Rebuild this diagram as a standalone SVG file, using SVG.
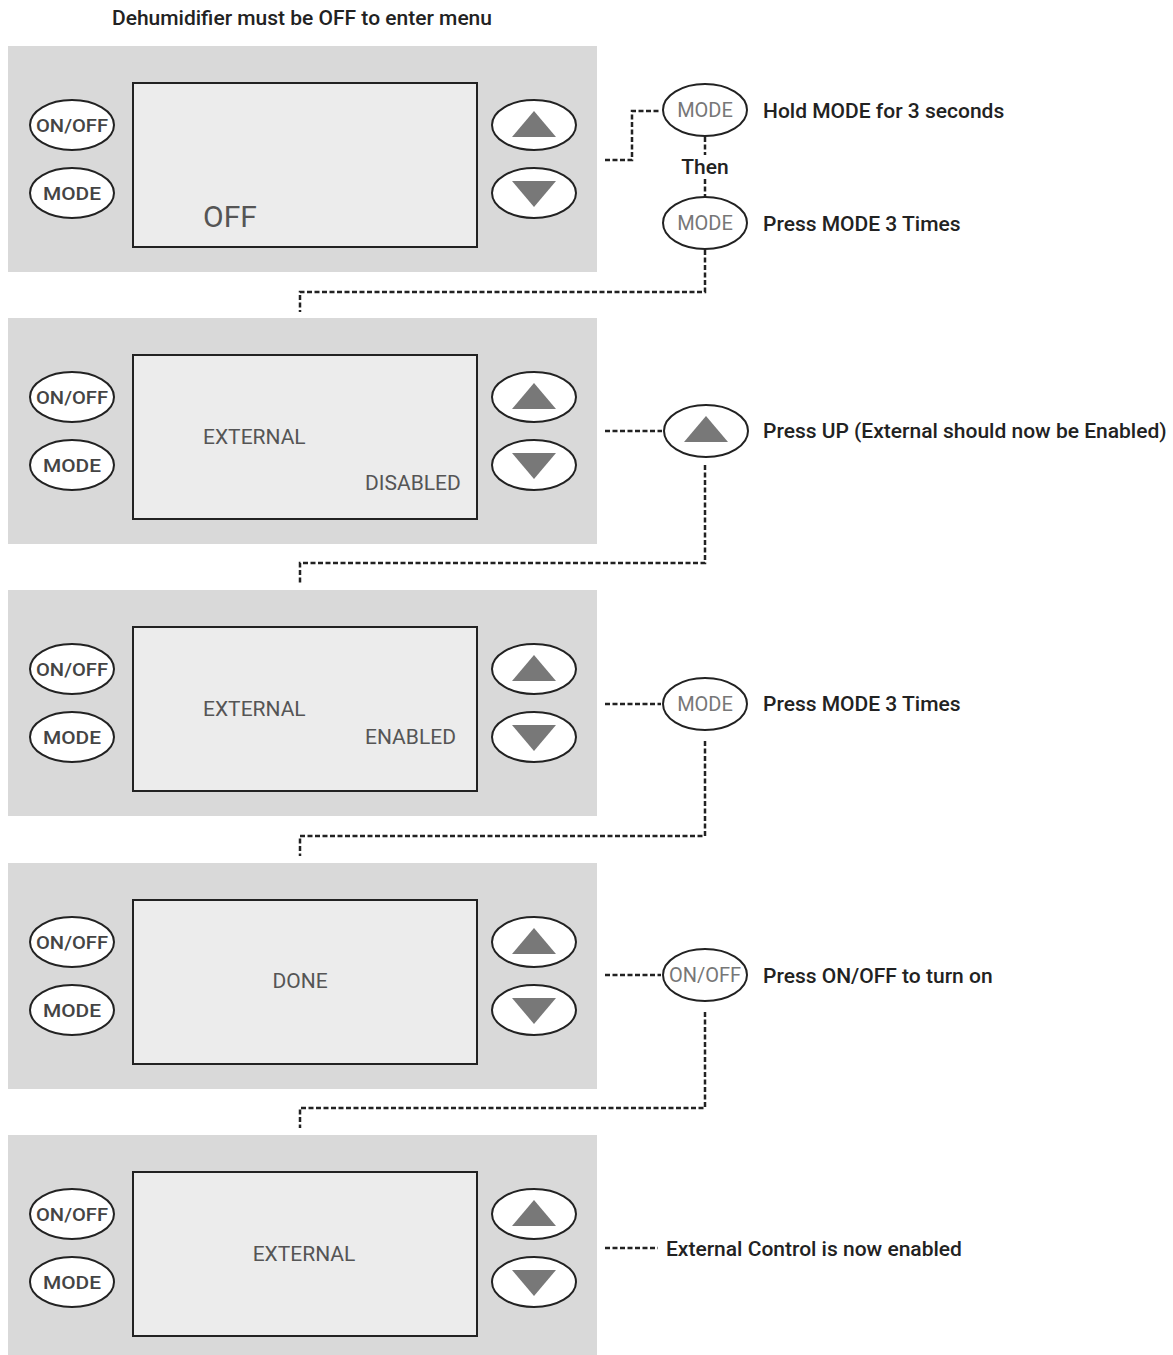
<svg xmlns="http://www.w3.org/2000/svg" width="1173" height="1355" viewBox="0 0 1173 1355">
<defs>
<style>
.panel{fill:#d9d9d9}
.screen{fill:#ececec;stroke:#222;stroke-width:2}
.btn{fill:#fff;stroke:#222;stroke-width:2}
.tri{fill:#787878}
.bt{font-family:Roboto,"Liberation Sans",sans-serif;font-size:19px;font-weight:500;fill:#444;text-anchor:middle}
.bt2{font-family:Roboto,"Liberation Sans",sans-serif;font-size:20px;fill:#777;text-anchor:middle}
.st{font-family:Roboto,"Liberation Sans",sans-serif;font-size:21px;fill:#555}
.lab{font-family:Roboto,"Liberation Sans",sans-serif;font-size:21px;font-weight:500;fill:#222}
.dash{fill:none;stroke:#222;stroke-width:2.5;stroke-dasharray:5 2.5}
</style>
<g id="keypad">
<rect class="panel" x="8" y="46" width="589" height="226"/>
<rect class="screen" x="133" y="83" width="344" height="164"/>
<ellipse class="btn" cx="72" cy="125" rx="42" ry="25"/>
<text class="bt" x="72" y="132" textLength="72" lengthAdjust="spacingAndGlyphs">ON/OFF</text>
<ellipse class="btn" cx="72" cy="193" rx="42" ry="25"/>
<text class="bt" x="72" y="200" textLength="58" lengthAdjust="spacingAndGlyphs">MODE</text>
<ellipse class="btn" cx="534" cy="125" rx="42" ry="25"/>
<polygon class="tri" points="534,111 556,137 512,137"/>
<ellipse class="btn" cx="534" cy="193" rx="42" ry="25"/>
<polygon class="tri" points="512,181 556,181 534,207"/>
</g>
</defs>
<text class="lab" x="112" y="25" textLength="380">Dehumidifier must be OFF to enter menu</text>
<g id="panel1">
<use href="#keypad"/>
<text class="st" x="203" y="227" style="font-size:30px">OFF</text>
</g>
<g id="panel2" transform="translate(0,272)">
<use href="#keypad"/>
<text class="st" x="203" y="172">EXTERNAL</text>
<text class="st" x="365" y="218">DISABLED</text>
</g>
<g id="panel3" transform="translate(0,544)">
<use href="#keypad"/>
<text class="st" x="203" y="172">EXTERNAL</text>
<text class="st" x="365" y="200">ENABLED</text>
</g>
<g id="panel4" transform="translate(0,817)">
<use href="#keypad"/>
<text class="st" x="300" y="171" text-anchor="middle">DONE</text>
</g>
<g id="panel5" transform="translate(0,1089)">
<use href="#keypad"/>
<text class="st" x="304" y="172" text-anchor="middle">EXTERNAL</text>
</g>
<g id="step1">
<ellipse class="btn" cx="705" cy="110" rx="42" ry="26"/>
<text class="bt2" x="705" y="117">MODE</text>
<text class="lab" x="763" y="118">Hold MODE for 3 seconds</text>
</g>
<g id="then">
<text class="lab" x="705" y="174" text-anchor="middle">Then</text>
</g>
<g id="step2">
<ellipse class="btn" cx="705" cy="223" rx="42" ry="26"/>
<text class="bt2" x="705" y="230">MODE</text>
<text class="lab" x="763" y="231">Press MODE 3 Times</text>
</g>
<g id="step3">
<ellipse class="btn" cx="706" cy="431" rx="42" ry="26"/>
<polygon class="tri" points="706,416 728,442 684,442"/>
<text class="lab" x="763" y="438">Press UP (External should now be Enabled)</text>
</g>
<g id="step4">
<ellipse class="btn" cx="705" cy="704" rx="42" ry="26"/>
<text class="bt2" x="705" y="711">MODE</text>
<text class="lab" x="763" y="711">Press MODE 3 Times</text>
</g>
<g id="step5">
<ellipse class="btn" cx="705" cy="975" rx="42" ry="26"/>
<text class="bt2" x="705" y="982">ON/OFF</text>
<text class="lab" x="763" y="983">Press ON/OFF to turn on</text>
</g>
<g id="step6">
<text class="lab" x="666" y="1256">External Control is now enabled</text>
</g>
<g id="connectors">
<path class="dash" d="M605,160 H632 V111 H660"/>
<path class="dash" d="M705,137 V155"/>
<path class="dash" d="M705,179 V197"/>
<path class="dash" d="M705,250 V292 H300 V312"/>
<path class="dash" d="M605,431 H662"/>
<path class="dash" d="M705,465 V563 H300 V583"/>
<path class="dash" d="M605,704 H661"/>
<path class="dash" d="M705,741 V836 H300 V856"/>
<path class="dash" d="M605,975 H661"/>
<path class="dash" d="M705,1012 V1108 H300 V1128"/>
<path class="dash" d="M605,1248 H658"/>
</g>
</svg>
